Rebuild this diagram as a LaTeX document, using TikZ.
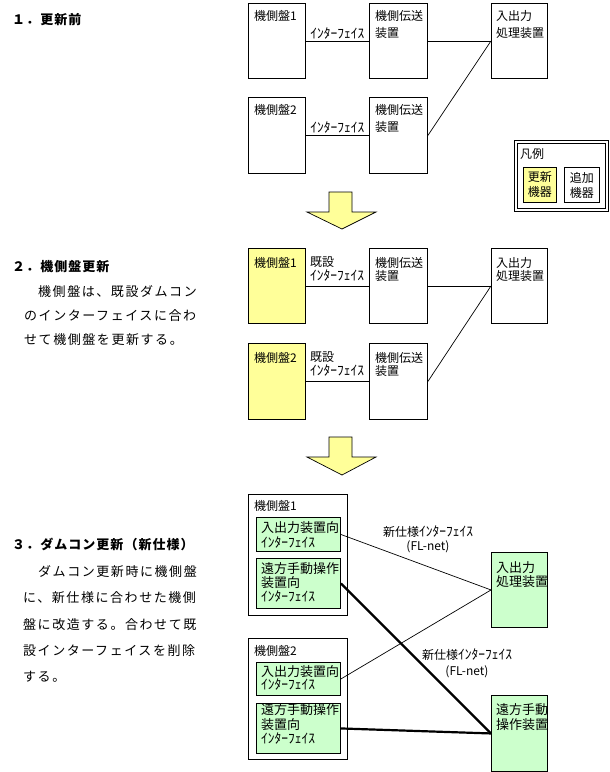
\documentclass[tikz,border=0pt]{standalone}
\usepackage{fontspec}
\newfontfamily\jp{Noto Sans CJK JP}
\newfontfamily\jpls[LetterSpace=12]{Noto Sans CJK JP}
\newfontfamily\jphd[LetterSpace=8]{Noto Sans CJK JP}
\newcommand\hk[1]{{\fontsize{13.5}{0}\selectfont #1}}
\definecolor{upd}{HTML}{FFFF99}
\definecolor{grn}{HTML}{CCFFCC}
\begin{document}
\begin{tikzpicture}[x=1pt,y=-1pt,
  box/.style={draw, line width=0.9pt, rectangle, anchor=north west, inner sep=0pt},
  tx/.style={anchor=north west, inner sep=0pt, align=left, font=\jp\fontsize{12}{#1}\selectfont},
  tx/.default=17,
  ty/.style={anchor=north west, inner sep=0pt, align=left, font=\jp\fontsize{13}{#1}\selectfont},
  ty/.default=14,
  ln/.style={line width=0.7pt},
  thk/.style={line width=2.2pt},
  lab/.style={above, inner sep=1.5pt, font=\jp\fontsize{12}{14}\selectfont},
  mid/.style={inner sep=0pt, align=center, font=\jp\fontsize{12}{15}\selectfont},
  hd/.style={anchor=west, inner sep=0pt, font=\jphd\bfseries\fontsize{13}{15}\selectfont},
  body/.style={anchor=west, inner sep=0pt, font=\jpls\fontsize{13}{15}\selectfont},
  bigarrow/.style={fill=upd, draw=black, line width=0.7pt}]
\useasboundingbox (0,0) rectangle (610,772);

% ---------- Section 1 ----------
\node[hd] (h1) at (12,20) {１．更新前};
\node[box, minimum width=57pt, minimum height=75pt] (a1) at (248,3) {};
\node[box, minimum width=58pt, minimum height=75pt] (a2) at (369,3) {};
\node[box, minimum width=56pt, minimum height=75pt] (a3) at (491,3) {};
\node[box, minimum width=57pt, minimum height=76pt] (a4) at (248,97) {};
\node[box, minimum width=58pt, minimum height=76pt] (a5) at (369,97) {};
\node[tx] (a1t) at (254,10) {機側盤1};
\node[tx] (a2t) at (375,10) {機側伝送\\装置};
\node[tx] (a3t) at (496,10) {入出力\\処理装置};
\node[tx] (a4t) at (254,104) {機側盤2};
\node[tx] (a5t) at (375,104) {機側伝送\\装置};
\draw[ln] (a1.east) -- node[lab] (l1) {\hk{ｲﾝﾀｰﾌｪｲｽ}} (a2.west);
\draw[ln] (a4.east) -- node[lab] (l2) {\hk{ｲﾝﾀｰﾌｪｲｽ}} (a5.west);
\draw[ln] (a2.east) -- (a3.west);
\draw[ln] (a5.east) -- (a3.west);

% legend
\node[box, line width=0.8pt, minimum width=94pt, minimum height=71pt] (lg) at (513.5,139.5) {};
\node[box, line width=0.8pt, minimum width=88pt, minimum height=65pt] (lgi) at (516.5,142.5) {};
\node[tx] (lgt) at (520,148) {凡例};
\node[box, fill=upd, minimum width=33pt, minimum height=35pt] (lg1) at (523,167) {};
\node[box, minimum width=35pt, minimum height=35pt] (lg2) at (564,167) {};
\node[mid] (lg1t) at (lg1.center) {更新\\機器};
\node[mid] (lg2t) at (lg2.center) {追加\\機器};

% arrow 1
\draw[bigarrow] (329,192) -- (352,192) -- (352,212) -- (376,212) -- (342,229)
  -- (307,212) -- (329,212) -- cycle;

% ---------- Section 2 ----------
\node[hd] (h2) at (12,267) {２．機側盤更新};
\node[body] (p21) at (38,292) {機側盤は、既設ダムコン};
\node[body] (p22) at (24,316) {のインターフェイスに合わ};
\node[body] (p23) at (24,340) {せて機側盤を更新する。};

\node[box, fill=upd, minimum width=57pt, minimum height=75pt] (b1) at (248,248) {};
\node[box, minimum width=58pt, minimum height=75pt] (b2) at (369,248) {};
\node[box, minimum width=56pt, minimum height=75pt] (b3) at (491,248) {};
\node[box, fill=upd, minimum width=57pt, minimum height=76pt] (b4) at (248,343) {};
\node[box, minimum width=58pt, minimum height=76pt] (b5) at (369,343) {};
\node[tx] (b1t) at (254,257) {機側盤1};
\node[tx=13.5] (b1l) at (310,257) {既設\\\hk{ｲﾝﾀｰﾌｪｲｽ}};
\node[tx=13.5] (b2t) at (375,257) {機側伝送\\装置};
\node[tx=13.5] (b3t) at (496,257) {入出力\\処理装置};
\node[tx] (b4t) at (254,352) {機側盤2};
\node[tx=13.5] (b4l) at (310,352) {既設\\\hk{ｲﾝﾀｰﾌｪｲｽ}};
\node[tx=13.5] (b5t) at (375,352) {機側伝送\\装置};
\draw[ln] (b1.east) -- (b2.west);
\draw[ln] (b4.east) -- (b5.west);
\draw[ln] (b2.east) -- (b3.west);
\draw[ln] (b5.east) -- (b3.west);

% arrow 2
\draw[bigarrow] (329,437) -- (352,437) -- (352,457) -- (376,457) -- (342,475)
  -- (307,457) -- (329,457) -- cycle;

% ---------- Section 3 ----------
\node[hd] (h3) at (12,544) {３．ダムコン更新（新仕様）};
\node[body] (p31) at (38,572) {ダムコン更新時に機側盤};
\node[body] (p32) at (23,598) {に、新仕様に合わせた機側};
\node[body] (p33) at (23,625) {盤に改造する。合わせて既};
\node[body] (p34) at (23,651) {設インターフェイスを削除};
\node[body] (p35) at (23,677) {する。};

\node[box, minimum width=99pt, minimum height=121pt] (c1) at (248,494) {};
\node[box, minimum width=99pt, minimum height=121pt] (c2) at (248,638) {};
\node[tx] (c1t) at (254,500) {機側盤1};
\node[tx] (c2t) at (254,645) {機側盤2};
\node[box, fill=grn, minimum width=84pt, minimum height=34pt] (g1) at (256,517) {};
\node[box, fill=grn, minimum width=84pt, minimum height=50pt] (g2) at (256,558) {};
\node[box, fill=grn, minimum width=84pt, minimum height=33pt] (g3) at (256,662) {};
\node[box, fill=grn, minimum width=84pt, minimum height=50pt] (g4) at (256,703) {};
\node[ty=15] (g1t) at (261,521) {入出力装置向\\\hk{ｲﾝﾀｰﾌｪｲｽ}};
\node[ty] (g2t) at (261,562.5) {遠方手動操作\\装置向\\\hk{ｲﾝﾀｰﾌｪｲｽ}};
\node[ty=13.5] (g3t) at (261,665) {入出力装置向\\\hk{ｲﾝﾀｰﾌｪｲｽ}};
\node[ty=14.5] (g4t) at (261,703.5) {遠方手動操作\\装置向\\\hk{ｲﾝﾀｰﾌｪｲｽ}};

\node[box, fill=grn, minimum width=56pt, minimum height=75pt] (c3) at (491,552) {};
\node[box, fill=grn, minimum width=56pt, minimum height=76pt] (c4) at (491,695) {};
\node[ty] (c3t) at (496,561) {入出力\\処理装置};
\node[ty=15] (c4t) at (496,703.5) {遠方手動\\操作装置};

\draw[ln] (g1.east) -- (c3.west);
\draw[ln] (g3.east) -- (c3.west);
\draw[thk] (g2.east) -- (c4.west);
\draw[thk] (g4.east) -- (c4.west);

\node[mid] (n1) at (428,532) {新仕様\hk{ｲﾝﾀｰﾌｪｲｽ}};
\node[mid] (n1b) at (428,547) {(FL-net)};
\node[mid] (n2) at (467,655) {新仕様\hk{ｲﾝﾀｰﾌｪｲｽ}};
\node[mid] (n2b) at (467,672) {(FL-net)};
\end{tikzpicture}
\end{document}
